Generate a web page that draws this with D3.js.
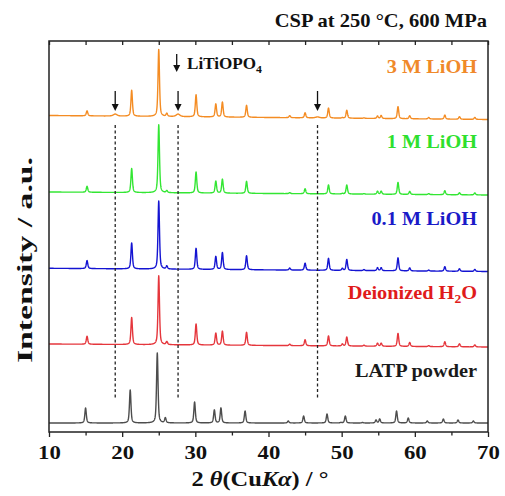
<!DOCTYPE html>
<html><head><meta charset="utf-8">
<script src="https://cdn.jsdelivr.net/npm/d3@7/dist/d3.min.js"></script>
<style>
body{margin:0;background:#fff}
text{font-family:"Liberation Serif","Times New Roman",serif;font-weight:bold}
</style></head>
<body><svg id="chart" width="505" height="496"></svg>
<script>
// ---------- data ----------
const seriesNames = ["LATP powder", "Deionized H2O", "0.1 M LiOH", "1 M LiOH", "3 M LiOH"];
const lineColors  = ["#4d4d4d", "#e5363c", "#1414d2", "#33e633", "#f48c23"];
const labelColors = ["#1a1a1a", "#e01b1b", "#1a1ac8", "#2ee02e", "#f0892a"];
// baseline level (a.u.) at 10° and at 70°
const baseAt10 = [9, 88, 163.7, 240, 316.5];
const baseAt70 = [9, 85, 160.5, 237, 312.5];
// peak shift of each pattern (°)
const seriesShift = [-0.2, 0, 0, 0, 0];
// NASICON (LATP) reflections, 2θ (°)
const peakPos = [15.2, 21.3, 25.0, 26.1, 30.1, 32.8, 33.7, 37.0, 42.9, 45.0, 48.2, 50.1, 50.7, 53.05, 54.9, 55.4, 57.7, 59.3, 61.9, 64.1, 66.1, 68.2];
const peaksLATP  = [15, 33, 70, 5, 21, 13, 15, 12, 2, 7, 9, 0.5, 7, 0.5, 3, 4, 12, 5, 2, 4, 3, 2];
const peaksH2O   = [8, 27, 69, 3, 21, 12, 14, 13, 1.5, 6, 10, 2, 9, 1, 3, 3, 13, 4, 1, 5, 3, 2];
const peaks01M   = [8, 26, 68, 3, 21, 13, 17, 14, 2, 7, 12, 2, 11, 1, 3, 3, 13, 3, 1, 4.5, 2.5, 2];
const peaks1M    = [6, 24, 68, 2, 21, 12, 14, 12, 1, 5, 9, 0.5, 9, 0.5, 3, 3, 12, 3, 1, 4, 2, 2];
const peaks3M    = [5, 26, 67, 3, 22, 13, 15, 12, 2, 5, 10, 0.5, 8, 0.5, 2.5, 3, 12, 3, 1.5, 4, 2.5, 2];
// LiTiOPO4 impurity reflections (marked with arrows)
const impurityPos = [19.05, 27.64, 46.7];
const impurity3M  = [2, 2.5, 1];
const xTicks = [10, 20, 30, 40, 50, 60, 70];
const xMinorTicks = [15, 25, 35, 45, 55, 65];

const peakSets = [peaksLATP, peaksH2O, peaks01M, peaks1M, peaks3M];
const impuritySets = [null, null, null, null, impurity3M];

// ---------- layout ----------
const svg = d3.select("#chart");
const m = {left: 49, right: 488, top: 41, bottom: 432};
const x = d3.scaleLinear().domain([10, 70]).range([m.left, m.right]);
const y = d3.scaleLinear().domain([0, 391]).range([m.bottom, m.top]);

function profile(t, pos, fwhm) {
  const d = (t - pos) / (fwhm / 2);
  const lor = 1 / (1 + d * d);
  const gau = Math.exp(-Math.LN2 * d * d);
  return 0.55 * lor + 0.45 * gau;
}
const grid = d3.range(10, 70.0001, 0.02);
function pattern(i) {
  const pk = peakSets[i], imp = impuritySets[i];
  return grid.map(t => {
    let v = baseAt10[i] + (baseAt70[i] - baseAt10[i]) * (t - 10) / 60;
    peakPos.forEach((p, k) => { v += pk[k] * profile(t, p + seriesShift[i], 0.24); });
    if (imp) impurityPos.forEach((p, k) => { v += imp[k] * profile(t, p, 0.6); });
    return [t, v];
  });
}

const line = d3.line().x(d => x(d[0])).y(d => y(d[1]));
seriesNames.forEach((n, i) => {
  svg.append("path").attr("d", line(pattern(i)))
    .attr("fill", "none").attr("stroke", lineColors[i])
    .attr("stroke-width", 1.4).attr("stroke-linejoin", "round");
});

// dashed guide lines
impurityPos.forEach(p => {
  svg.append("line").attr("x1", x(p)).attr("x2", x(p))
    .attr("y1", 125).attr("y2", 398)
    .attr("stroke", "#222").attr("stroke-width", 1.3).attr("stroke-dasharray", "3,2.5");
});

// arrows
function arrow(cx, y0, y1) {
  svg.append("line").attr("x1", cx).attr("x2", cx).attr("y1", y0).attr("y2", y1 - 6)
    .attr("stroke", "#111").attr("stroke-width", 1.3);
  svg.append("path").attr("d", `M${cx - 3.5},${y1 - 7} L${cx + 3.5},${y1 - 7} L${cx},${y1} Z`)
    .attr("fill", "#111");
}
impurityPos.forEach(p => arrow(x(p), 91, 111));
arrow(176.7, 54, 72);
const lt = svg.append("text").attr("transform", "translate(187,69) scale(1.07,1)")
  .attr("font-size", 16).attr("fill", "#111");
lt.append("tspan").text("LiTiOPO");
lt.append("tspan").attr("font-size", 11).attr("dy", 4).text("4");

// axes
const axB = svg.append("g").attr("transform", `translate(0,${m.bottom})`)
  .call(d3.axisBottom(x).tickValues(xTicks).tickSize(5).tickSizeOuter(0).tickFormat(d3.format("d")));
svg.append("g").attr("transform", `translate(0,${m.bottom})`)
  .call(d3.axisBottom(x).tickValues(xMinorTicks).tickSize(3.5).tickSizeOuter(0).tickFormat(""));
svg.append("g").attr("transform", `translate(0,${m.top})`)
  .call(d3.axisBottom(x).tickValues(xTicks.concat(xMinorTicks)).tickSize(4).tickSizeOuter(0).tickFormat(""));
svg.selectAll(".domain").remove();
svg.selectAll(".tick line").attr("stroke", "#222").attr("stroke-width", 1.3);
axB.selectAll(".tick text").attr("font-size", 19).attr("dy", null).attr("y", 0)
  .attr("transform", "translate(0,27) scale(1.2,1)")
  .attr("fill", "#111").attr("font-family", "Liberation Serif, serif").attr("font-weight", "bold");

svg.append("rect").attr("x", m.left).attr("y", m.top)
  .attr("width", m.right - m.left).attr("height", m.bottom - m.top)
  .attr("fill", "none").attr("stroke", "#222").attr("stroke-width", 1.5);

// series labels
const labelBase = [377, 299, 225, 148, 73];
seriesNames.forEach((n, i) => {
  const t = svg.append("text").attr("transform", `translate(477,${labelBase[i]}) scale(1.13,1)`)
    .attr("text-anchor", "end").attr("font-size", 18).attr("fill", labelColors[i]);
  if (n === "Deionized H2O") {
    t.append("tspan").text("Deionized H");
    t.append("tspan").attr("font-size", 12).attr("dy", 4).text("2");
    t.append("tspan").attr("dy", -4).text("O");
  } else t.text(n);
});

// title
svg.append("text").attr("transform", "translate(487,27) scale(1.14,1)").attr("text-anchor", "end")
  .attr("font-size", 18).attr("fill", "#111").text("CSP at 250 °C, 600 MPa");

// axis titles
const xl = svg.append("text").attr("x", 260).attr("y", 486).attr("text-anchor", "middle")
  .attr("font-size", 20).attr("fill", "#111")
  .attr("textLength", 137).attr("lengthAdjust", "spacingAndGlyphs");
xl.append("tspan").text("2");
xl.append("tspan").attr("font-style", "italic").text(" θ");
xl.append("tspan").text("(Cu");
xl.append("tspan").attr("font-style", "italic").text("Kα");
xl.append("tspan").text(") / °");

svg.append("text").attr("transform", "translate(32,260) rotate(-90)")
  .attr("text-anchor", "middle").attr("font-size", 21).attr("fill", "#111")
  .attr("textLength", 206).attr("lengthAdjust", "spacingAndGlyphs")
  .text("Intensity / a.u.");
</script></body></html>
